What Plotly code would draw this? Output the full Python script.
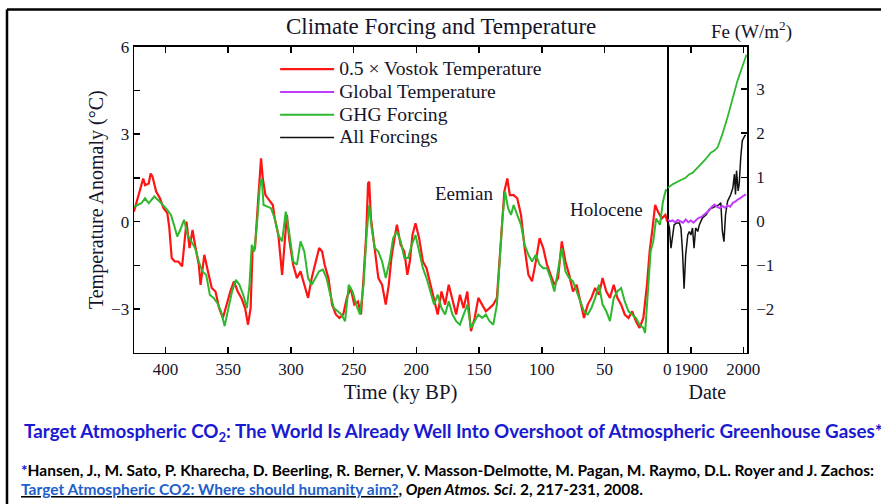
import plotly.graph_objects as go

# ---------------- data ----------------
# 0.5 x Vostok temperature (deg C) vs time (ky BP)
vostok_ky = [425.1, 417.7, 416.2, 413.3, 411.8, 410.3, 407.4, 404.4, 401.5, 398.5, 397.0, 395.0, 392.6, 389.7,
             386.7, 385.2, 383.2, 380.8, 378.4, 376.4, 373.4, 372.0, 369.0, 366.1, 363.1, 360.1, 357.2, 354.2,
             351.3, 348.3, 345.4, 342.4, 339.5, 336.5, 334.2, 332.1, 330.6, 328.6, 326.2, 324.7, 323.8, 322.4,
             320.3, 317.3, 314.4, 312.9, 310.0, 307.0, 305.0, 303.2, 301.1, 298.2, 295.2, 292.3, 289.3, 286.3,
             283.4, 280.4, 277.5, 275.1, 273.1, 270.1, 267.2, 264.2, 261.3, 258.3, 255.4, 252.4, 249.5, 246.5,
             244.1, 242.1, 240.0, 238.5, 237.6, 236.2, 233.2, 230.3, 227.3, 224.4, 222.0, 219.9, 217.0, 215.5,
             212.5, 209.6, 207.2, 205.2, 203.1, 200.7, 197.8, 194.8, 191.9, 188.9, 185.9, 183.0, 180.0, 177.1,
             174.2, 171.2, 168.3, 165.3, 162.4, 159.4, 156.5, 153.5, 150.6, 147.6, 144.6, 141.7, 138.7, 135.8,
             134.3, 132.2, 129.9, 127.5, 125.5, 122.5, 119.6, 116.6, 113.7, 110.7, 107.8, 104.8, 101.8, 98.9,
             95.9, 93.0, 90.0, 87.1, 84.1, 81.2, 78.2, 75.2, 72.3, 69.3, 66.4, 63.4, 60.5, 57.5, 54.5, 51.6,
             48.6, 45.7, 42.7, 39.8, 36.8, 33.9, 30.9, 28.0, 25.0, 22.1, 19.1, 16.2, 14.1, 11.8, 9.7, 7.4,
             4.4, 1.5, 0.0]
vostok_t = [0.34, 1.48, 1.25, 1.31, 1.65, 1.54, 1.03, 0.80, 0.46, 0.29, -0.17, -1.25, -1.37, -1.37,
            -1.54, -0.91, 0.00, -0.91, -0.29, -0.80, -1.48, -2.17, -1.14, -1.71, -2.28, -2.40, -2.97, -3.31,
            -2.85, -2.40, -2.05, -2.40, -2.62, -2.97, -3.54, -2.97, -1.03, -0.91, 0.68, 1.71, 2.17, 1.48,
            0.91, 0.74, 0.57, 0.11, -0.46, -1.83, -0.57, 0.23, -0.68, -1.48, -1.94, -1.71, -2.17, -2.62,
            -1.94, -1.37, -0.91, -1.03, -1.48, -1.94, -2.85, -3.19, -3.31, -3.19, -2.62, -2.28, -2.85, -2.74,
            -3.19, -1.94, -0.46, 1.31, 1.37, 0.11, -1.03, -1.94, -2.17, -2.85, -2.17, -1.25, -0.46, -0.11,
            -0.80, -1.03, -1.83, -1.37, -0.46, -0.06, -0.57, -1.37, -1.60, -2.17, -2.74, -3.19, -2.40, -2.85,
            -2.17, -2.74, -3.19, -2.51, -2.97, -2.40, -3.76, -3.31, -2.62, -2.85, -3.08, -2.97, -2.85, -2.62,
            -1.60, -0.46, 1.03, 1.48, 0.91, 0.91, 0.80, 0.23, -0.91, -1.83, -2.05, -1.37, -0.57, -0.91,
            -1.48, -1.83, -2.17, -1.94, -0.68, -1.37, -1.83, -2.40, -2.17, -2.74, -3.31, -2.85, -2.62, -2.28, -2.51, -1.94,
            -2.40, -2.62, -2.17, -2.62, -2.85, -3.19, -3.31, -3.08, -3.42, -3.65, -3.31, -2.17, -1.03, -0.23, 0.57, 0.34,
            0.11, 0.23, 0.00]

# GHG forcing expressed as temperature (deg C) vs time (ky BP)
ghg_ky = [425.1, 419.2, 416.2, 413.3, 408.9, 404.4, 398.5, 395.6, 393.2, 390.6, 388.2, 385.2, 382.3, 379.3,
          376.4, 373.4, 370.5, 367.5, 364.6, 361.6, 358.7, 355.7, 352.8, 349.8, 346.9, 343.9, 341.0, 338.0,
          335.1, 333.0, 331.2, 329.2, 327.1, 324.7, 323.2, 321.8, 318.8, 315.9, 312.9, 310.0, 307.0, 304.1,
          301.1, 298.2, 295.2, 292.3, 289.3, 286.3, 283.4, 280.4, 277.5, 274.5, 271.6, 268.6, 265.7, 262.7,
          259.8, 256.8, 253.9, 250.9, 248.0, 245.0, 242.1, 239.7, 237.6, 235.6, 233.2, 230.3, 227.3, 224.4,
          221.4, 218.5, 215.5, 212.5, 209.6, 206.6, 203.7, 200.7, 197.8, 194.8, 191.9, 188.9, 185.9, 183.0,
          180.0, 177.1, 174.2, 171.2, 168.3, 165.3, 162.4, 159.4, 156.5, 153.5, 150.6, 147.6, 144.6, 141.7,
          138.7, 135.8, 133.4, 131.4, 129.3, 126.9, 124.6, 122.5, 119.6, 116.6, 113.7, 110.7, 107.8, 104.8,
          101.8, 98.9, 95.9, 93.0, 90.0, 87.1, 84.1, 81.2, 78.2, 75.2, 72.3, 69.3, 66.4, 63.4, 60.5, 57.5,
          54.5, 51.6, 48.6, 45.7, 42.7, 39.8, 36.8, 33.9, 30.9, 28.0, 25.0, 22.1, 19.1, 17.7, 15.6, 13.3,
          11.2, 8.9, 5.9, 3.5, 1.2, 0.0]
ghg_t = [0.51, 0.63, 0.80, 0.63, 0.86, 0.68, 0.40, 0.23, -0.11, -0.51, -0.29, 0.06, -0.46, -0.68,
         -0.91, -1.37, -1.71, -1.83, -2.51, -2.62, -2.79, -3.08, -3.59, -2.97, -2.40, -2.00, -2.17, -2.51,
         -2.97, -2.17, -0.80, -1.03, -0.11, 1.25, 1.48, 0.57, 0.51, 0.46, 0.11, -0.46, -0.68, 0.34,
         -0.46, -1.37, -1.48, -0.68, -1.03, -1.94, -2.17, -1.94, -1.71, -1.65, -1.94, -2.51, -2.97, -3.08,
         -3.19, -3.42, -2.17, -2.40, -2.85, -3.19, -2.17, -0.46, 0.57, -0.23, -0.91, -1.03, -1.37, -1.94,
         -1.37, -0.57, -0.34, -0.68, -1.25, -1.25, -0.80, -0.46, -1.03, -1.60, -1.94, -2.40, -2.85, -2.51,
         -2.97, -3.19, -2.74, -3.19, -3.42, -3.54, -3.19, -2.85, -3.65, -3.42, -3.19, -3.31, -3.19, -3.42,
         -3.54, -2.85, -1.37, 0.11, 1.03, 0.46, 0.23, 0.57, 0.23, -0.11, -0.80, -1.14, -1.37, -1.14,
         -1.48, -1.60, -1.60, -1.94, -2.40, -1.60, -0.91, -1.71, -1.94, -2.05, -2.40, -2.74, -3.08, -3.19, -2.97, -2.62,
         -2.17, -2.85, -3.08, -3.42, -2.62, -2.40, -2.28, -2.74, -3.08, -3.19, -3.31, -3.54, -3.65, -3.82, -2.40, -1.03,
         -0.68, 0.11, -0.11, 0.68, 1.08, 1.07]

# Modern period (W/m^2) vs calendar year
ghg_year = [1856, 1865, 1878, 1890, 1897, 1903, 1916, 1928, 1938, 1944, 1951, 1960, 1970, 1979, 1989, 1998, 2006]
ghg_fe = [0.76, 0.84, 0.92, 0.99, 1.07, 1.10, 1.26, 1.41, 1.56, 1.60, 1.68, 1.98, 2.37, 2.75, 3.20, 3.51, 3.78]

allf_year = [1856, 1859, 1862, 1865, 1868, 1872, 1878, 1881, 1884, 1887, 1890, 1894, 1897, 1900, 1903,
             1906, 1909, 1913, 1916, 1922, 1929, 1935, 1941, 1947, 1954, 1957, 1960, 1963, 1966, 1970,
             1973, 1976, 1980, 1983, 1985, 1987, 1990, 1992, 1995, 1998, 2003, 2005]
allf_fe = [0.00, -0.15, -0.61, -0.31, -0.08, -0.04, -0.04, -0.15, -0.69, -1.53, -0.76, -0.31, -0.23, -0.31, -0.15,
           -0.61, -0.15, -0.23, -0.08, 0.08, 0.15, 0.27, 0.31, 0.34, 0.38, 0.42, -0.23, -0.46, 0.15, 0.46,
           0.53, 0.61, 0.76, 1.07, 0.61, 1.15, 0.69, 0.84, 1.45, 1.83, 1.95, 1.95]

gtemp_year = [1856, 1860, 1865, 1870, 1875, 1880, 1885, 1890, 1895, 1900, 1905, 1910, 1915, 1920, 1925, 1930,
              1935, 1940, 1945, 1950, 1955, 1960, 1965, 1970, 1975, 1980, 1985, 1990, 1995, 2000, 2005]
gtemp_fe = [0.04, 0.00, 0.02, -0.02, 0.03, 0.00, -0.03, 0.04, -0.02, 0.02, -0.03, 0.03, 0.08, 0.10, 0.15, 0.20,
            0.25, 0.33, 0.38, 0.33, 0.30, 0.35, 0.31, 0.36, 0.33, 0.42, 0.45, 0.50, 0.53, 0.58, 0.61]

left_ticks = [400, 350, 300, 250, 200, 150, 100, 50, 0]
temp_ticks = [6, 3, 0, -3]
temp_minor = [4.5, 1.5, -1.5, -4.5]
year_ticks = [1900, 2000]
fe_ticks = [3, 2, 1, 0, -1, -2, -3]

# ---------------- styling ----------------
W, H = 894, 504
SERIF = "Liberation Serif, Times New Roman, serif"
RED = "#ff1414"
GREEN = "#2eb82e"
PURPLE = "#c23cff"
BLACK = "#111111"
TXT = "#15152a"

# positions below are given in picture pixels and mapped onto the page
def px(x):
    return ((x - 1) / 0.985) / W

def py(y):
    return 1 - ((y - 7) / 0.986) / H

def big(s):
    return "<span style='font-size:19.6px'>" + s + "</span>"

fig = go.Figure()

fig.add_trace(go.Scatter(x=vostok_ky, y=vostok_t, mode="lines", name=big("0.5 \u00d7 Vostok Temperature"),
                         line=dict(color=RED, width=2.2), xaxis="x", yaxis="y", legendrank=1))
fig.add_trace(go.Scatter(x=ghg_ky, y=ghg_t, mode="lines", name=big("GHG Forcing"),
                         line=dict(color=GREEN, width=2), xaxis="x", yaxis="y", legendrank=3))
fig.add_trace(go.Scatter(x=ghg_year, y=ghg_fe, mode="lines", name="GHG Forcing", showlegend=False,
                         line=dict(color=GREEN, width=1.8), xaxis="x2", yaxis="y2"))
fig.add_trace(go.Scatter(x=allf_year, y=allf_fe, mode="lines", name=big("All Forcings"),
                         line=dict(color=BLACK, width=1.5), xaxis="x2", yaxis="y2", legendrank=4))
fig.add_trace(go.Scatter(x=gtemp_year, y=gtemp_fe, mode="lines", name=big("Global Temperature"),
                         line=dict(color=PURPLE, width=2), xaxis="x2", yaxis="y2", legendrank=2))

x_left = [px(135), px(668)]
x_right = [px(668), px(748)]
y_dom = [py(352), py(45)]

axis_common = dict(showline=True, linecolor="black", linewidth=1.5, ticks="inside",
                   tickcolor="black", tickwidth=1.5, showgrid=False, zeroline=False,
                   tickfont=dict(family=SERIF, size=17, color=TXT))

fig.update_layout(
    width=W, height=H,
    margin=dict(l=0, r=0, t=0, b=0),
    paper_bgcolor="white", plot_bgcolor="white",
    hovermode=False,
    showlegend=True,
    legend=dict(x=px(276), y=py(51), xanchor="left", yanchor="top",
                bgcolor="rgba(0,0,0,0)", font=dict(family=SERIF, size=15.2, color=TXT),
                itemwidth=54, tracegroupgap=0, itemclick=False),
    xaxis=dict(domain=x_left, anchor="y", range=[425, 0], tickvals=left_ticks, ticklen=6,
               mirror="ticks",
               title=dict(text="Time (ky BP)", font=dict(family=SERIF, size=20.8, color=TXT), standoff=7),
               **axis_common),
    yaxis=dict(domain=y_dom, anchor="x", range=[-4.5, 6], tickvals=temp_ticks,
               ticklen=6, mirror=True,
               minor=dict(tickvals=temp_minor, ticks="inside", ticklen=6, tickcolor="black", tickwidth=1.5),
               title=dict(text="Temperature Anomaly (\u00b0C)", font=dict(family=SERIF, size=20, color=TXT),
                          standoff=2),
               **axis_common),
    xaxis2=dict(domain=x_right, anchor="y2", range=[1855, 2007.6], tickvals=year_ticks, ticklen=6,
                mirror="ticks",
                title=dict(text="Date", font=dict(family=SERIF, size=20, color=TXT), standoff=7),
                **axis_common),
    yaxis2=dict(domain=y_dom, anchor="x2", side="right", range=[-2.98, 3.96], tickvals=fe_ticks,
                ticklen=6, mirror=False, ticklabelstandoff=4, **axis_common),
)

annotations = [
    dict(text="Climate Forcing and Temperature", x=px(442), y=py(25), font=dict(family=SERIF, size=23, color=TXT)),
    dict(text="Fe (W/m<sup>2</sup>)", x=px(752), y=py(29), font=dict(family=SERIF, size=19, color=TXT)),
    dict(text="Eemian", x=px(465), y=py(192), font=dict(family=SERIF, size=19, color=TXT)),
    dict(text="Holocene", x=px(607), y=py(208), font=dict(family=SERIF, size=19, color=TXT)),
    dict(text="<b>Target Atmospheric CO<sub>2</sub>: The World Is Already Well Into Overshoot of "
              "Atmospheric Greenhouse Gases*</b>",
         x=px(23), y=py(432), xanchor="left", font=dict(family="Lato", size=18.8, color="#1a1ad0")),
    dict(text="<b><span style='color:#1a1ad0'>*</span>Hansen, J., M. Sato, P. Kharecha, D. Beerling, R. Berner, "
              "V. Masson-Delmotte, M. Pagan, M. Raymo, D.L. Royer and J. Zachos:</b>",
         x=px(20), y=py(470), xanchor="left", font=dict(family="Lato", size=15.5, color="black")),
    dict(text="<b><u><span style='color:#2060c8'>Target Atmospheric CO2: Where should humanity aim?</span></u>, "
              "<i>Open Atmos. Sci</i>. 2, 217-231, 2008.</b>",
         x=px(20), y=py(489), xanchor="left", font=dict(family="Lato", size=15.5, color="black")),
]
for a in annotations:
    a.setdefault("xanchor", "center")
    a.update(xref="paper", yref="paper", yanchor="middle", showarrow=False)
fig.update_layout(annotations=annotations)

# slide frame lines
fig.update_layout(shapes=[
    dict(type="line", xref="paper", yref="paper", x0=px(8), x1=1, y0=py(7.6), y1=py(7.6),
         line=dict(color="black", width=2.5)),
    dict(type="line", xref="paper", yref="paper", x0=px(8), x1=px(8), y0=py(7.6), y1=0,
         line=dict(color="black", width=2.5)),
])

fig.write_html("out.html",
               config={"displayModeBar": False, "staticPlot": True},
               post_script="document.documentElement.style.margin='0px';"
                           "document.body.style.margin='0px';document.body.style.padding='0px';"
                           "document.documentElement.style.overflow='hidden';"
                           "document.body.style.overflow='hidden';")
